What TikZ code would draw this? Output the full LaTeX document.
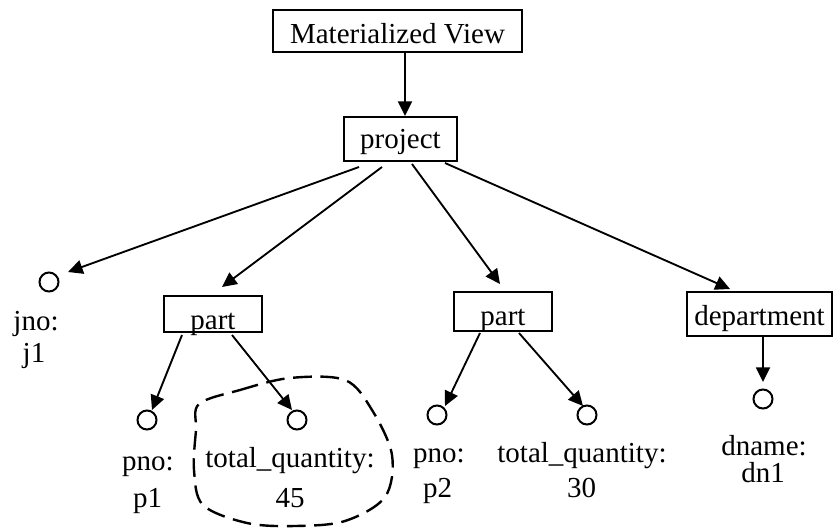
\documentclass[tikz,border=0pt]{standalone}
\usepackage{fontspec}
\setmainfont{Liberation Serif}
\usetikzlibrary{arrows.meta,calc}
\begin{document}
\begin{tikzpicture}[x=0.75pt,y=-0.75pt,
  every node/.style={font=\fontsize{21.75}{26}\selectfont},
  box/.style={draw,line width=1.5pt,inner xsep=0pt,inner ysep=0pt,anchor=base},
  leaf/.style={draw,circle,line width=1.5pt,minimum size=14.25pt,inner sep=0pt},
  lbl/.style={anchor=base,inner sep=0pt},
  arr/.style={line width=1.4pt,-{Triangle[length=11pt,width=10.5pt]}},
  blob/.style={line width=1.8pt,dash pattern=on 14pt off 6.5pt},
]
\useasboundingbox (0,0) rectangle (833,529);

% boxes
\node[box,minimum width=186.75pt,text height=24.75pt,text depth=6.75pt] (mv) at (397.5,43) {Materialized View};
\node[box,minimum width=84.75pt,text height=23.25pt,text depth=9.75pt] (project) at (400.5,148) {project};
\node[box,minimum width=73.5pt,text height=24.75pt,text depth=2.25pt] (part1) at (213,329) {part};
\node[box,minimum width=73.5pt,text height=24.75pt,text depth=4.5pt] (part2) at (503,325) {part};
\node[box,minimum width=108.75pt,text height=24.75pt,text depth=8.25pt] (dept) at (759.5,325) {department};

% leaves
\node[leaf] (jno) at (49,282) {};
\node[leaf] (pno1) at (147,420) {};
\node[leaf] (tq1) at (297,420) {};
\node[leaf] (pno2) at (437,415) {};
\node[leaf] (tq2) at (587,415) {};
\node[leaf] (dname) at (763,399) {};

% labels
\node[lbl] (jnoA) at (36,330) {jno:};
\node[lbl] (jnoB) at (34,362) {j1};
\node[lbl] (pno1A) at (148,470) {pno:};
\node[lbl] (pno1B) at (147.5,507) {p1};
\node[lbl] (tq1A) at (290,467) {total\_quantity:};
\node[lbl] (tq1B) at (290,507) {45};
\node[lbl] (pno2A) at (439,462) {pno:};
\node[lbl] (pno2B) at (437.5,497) {p2};
\node[lbl] (tq2A) at (582,462) {total\_quantity:};
\node[lbl] (tq2B) at (581.5,497) {30};
\node[lbl] (dnameA) at (764,455) {dname:};
\node[lbl] (dnameB) at (763,482) {dn1};

% connectors
\draw[arr] ($(mv.south)+(7.5,0)$) -- ($(project.north)+(4.5,0)$);
\draw[arr] ($(project.south)+(-41.5,5)$) -- ($(jno.center)+(19,-10)$);
\draw[arr] ($(project.south)+(-18.5,5)$) -- ($(part1.north)+(9,-8)$);
\draw[arr] ($(project.south)+(11.5,2)$) -- ($(part2.north)+(-3,-7)$);
\draw[arr] ($(project.south)+(44.5,1)$) -- ($(dept.north)+(-29.5,-2)$);
\draw[arr] ($(part1.south)+(-31,2)$) -- ($(pno1.center)+(5,-10)$);
\draw[arr] ($(part1.south)+(19,2)$) -- ($(tq1.center)+(-5,-10)$);
\draw[arr] ($(part2.south)+(-23,1)$) -- ($(pno2.center)+(8,-9)$);
\draw[arr] ($(part2.south)+(16,1)$) -- ($(tq2.center)+(-4,-9)$);
\draw[arr] ($(dept.south)+(3.5,0)$) -- ($(dname.center)+(0,-17)$);

% dashed outline
\draw[blob] plot[smooth cycle,tension=0.55] coordinates {(199,404) (240,390) (290,378) (345,380) (372,410) (392,455) (385,497) (345,521) (295,526) (247,523) (203,505) (194,470) (196,430)};
\end{tikzpicture}
\end{document}
